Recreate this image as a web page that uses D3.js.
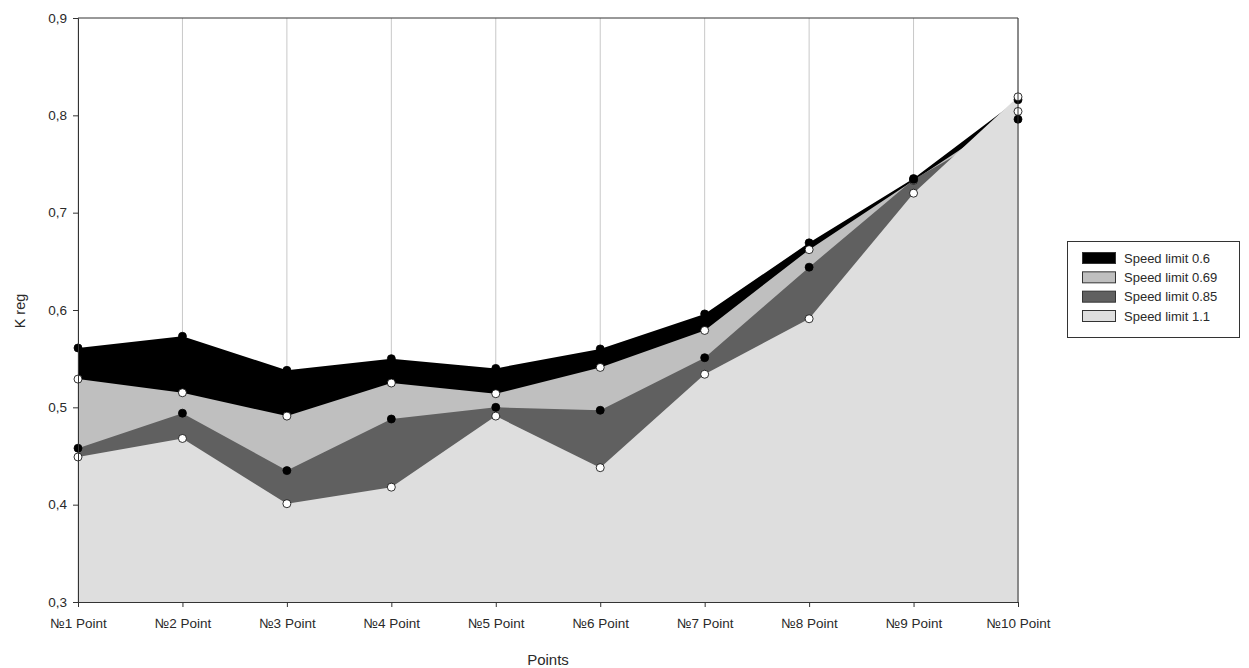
<!DOCTYPE html>
<html>
<head>
<meta charset="utf-8">
<script src="https://cdn.jsdelivr.net/npm/d3@7"></script>
<style>
  html, body { margin: 0; padding: 0; background: #fff; }
  svg { display: block; font-family: "Liberation Sans", Arial, sans-serif; }
</style>
</head>
<body>
<svg id="chart" width="1249" height="668"></svg>
<script>
// Categories along the x axis
const points = ["№1 Point", "№2 Point", "№3 Point", "№4 Point", "№5 Point",
                "№6 Point", "№7 Point", "№8 Point", "№9 Point", "№10 Point"];

// K reg values for each speed limit
const speed060 = [0.561, 0.573, 0.538, 0.550, 0.540, 0.560, 0.596, 0.669, 0.735, 0.816];
const speed069 = [0.529, 0.515, 0.491, 0.525, 0.514, 0.541, 0.579, 0.662, 0.733, 0.804];
const speed085 = [0.458, 0.494, 0.435, 0.488, 0.500, 0.497, 0.551, 0.644, 0.734, 0.796];
const speed110 = [0.449, 0.468, 0.401, 0.418, 0.491, 0.438, 0.534, 0.591, 0.720, 0.819];

// Y tick labels
const yTicks = [0.3, 0.4, 0.5, 0.6, 0.7, 0.8, 0.9];
const yTickLabels = ["0,3", "0,4", "0,5", "0,6", "0,7", "0,8", "0,9"];

const seriesNames = ["Speed limit 0.6", "Speed limit 0.69", "Speed limit 0.85", "Speed limit 1.1"];

const series = [
  { name: seriesNames[0], values: speed060, fill: "#000000", marker: "#000000" },
  { name: seriesNames[1], values: speed069, fill: "#bfbfbf", marker: "#ffffff" },
  { name: seriesNames[2], values: speed085, fill: "#606060", marker: "#000000" },
  { name: seriesNames[3], values: speed110, fill: "#dedede", marker: "#ffffff" }
];

const svg = d3.select("#chart");
const plotLeft = 78, plotRight = 1018, plotTop = 18, plotBottom = 602;
const textColor = "#2a2a2a";

const x = d3.scalePoint().domain(points).range([plotLeft, plotRight]);
const y = d3.scaleLinear().domain([0.3, 0.9]).range([plotBottom, plotTop]);

// Vertical grid lines at each category
svg.append("g").selectAll("line").data(points).join("line")
  .attr("x1", d => x(d)).attr("x2", d => x(d))
  .attr("y1", plotTop).attr("y2", plotBottom)
  .attr("stroke", "#c8c8c8").attr("stroke-width", 1);

// Overlapping areas, each filled down to the axis floor
const area = d3.area()
  .x((d, i) => x(points[i]))
  .y0(y(0.3))
  .y1(d => y(d));

svg.append("g").selectAll("path").data(series).join("path")
  .attr("d", s => area(s.values))
  .attr("fill", s => s.fill);

// Markers
series.forEach(s => {
  svg.append("g").selectAll("circle").data(s.values).join("circle")
    .attr("cx", (d, i) => x(points[i]))
    .attr("cy", d => y(d))
    .attr("r", 4)
    .attr("fill", s.marker)
    .attr("stroke", "#000")
    .attr("stroke-width", 0.8);
});

// Frame: top and right border
svg.append("line").attr("x1", plotLeft).attr("x2", plotRight).attr("y1", plotTop).attr("y2", plotTop)
  .attr("stroke", "#333").attr("stroke-width", 1);
svg.append("line").attr("x1", plotRight).attr("x2", plotRight).attr("y1", plotTop).attr("y2", plotBottom)
  .attr("stroke", "#333").attr("stroke-width", 1);

// Y axis
const yAxis = d3.axisLeft(y).tickValues(yTicks)
  .tickFormat((d, i) => yTickLabels[i]).tickSize(5).tickPadding(6);
const gy = svg.append("g").attr("transform", `translate(${plotLeft},0)`).call(yAxis);
gy.select(".domain").attr("stroke", "#333");
gy.selectAll(".tick line").attr("stroke", "#333");
gy.selectAll("text").attr("font-size", 13.5).attr("fill", textColor)
  .attr("font-family", "Liberation Sans, Arial, sans-serif");

// X axis
const xAxis = d3.axisBottom(x).tickSize(5).tickPadding(11);
const gx = svg.append("g").attr("transform", `translate(0,${plotBottom})`).call(xAxis);
gx.select(".domain").attr("stroke", "#333");
gx.selectAll(".tick line").attr("stroke", "#333");
gx.selectAll("text").attr("font-size", 13.5).attr("fill", textColor)
  .attr("font-family", "Liberation Sans, Arial, sans-serif");

// Axis titles
svg.append("text").attr("x", 548).attr("y", 665).attr("text-anchor", "middle")
  .attr("font-size", 15).attr("fill", textColor).text("Points");
svg.append("text").attr("transform", "translate(25,311) rotate(-90)")
  .attr("text-anchor", "middle").attr("font-size", 14.5).attr("fill", textColor).text("K reg");

// Legend
const lg = svg.append("g");
lg.append("rect").attr("x", 1067.5).attr("y", 241.5).attr("width", 172).attr("height", 96)
  .attr("fill", "#fff").attr("stroke", "#333").attr("stroke-width", 1);
const legendRowY = d3.scalePoint().domain(seriesNames).range([258, 316]);
series.forEach(s => {
  const cy = legendRowY(s.name);
  lg.append("rect").attr("x", 1082.5).attr("y", cy - 5.5).attr("width", 33).attr("height", 11)
    .attr("fill", s.fill).attr("stroke", "#333").attr("stroke-width", 1);
  lg.append("text").attr("x", 1124).attr("y", cy + 4.5).attr("font-size", 13)
    .attr("fill", textColor).text(s.name);
});
</script>
</body>
</html>
